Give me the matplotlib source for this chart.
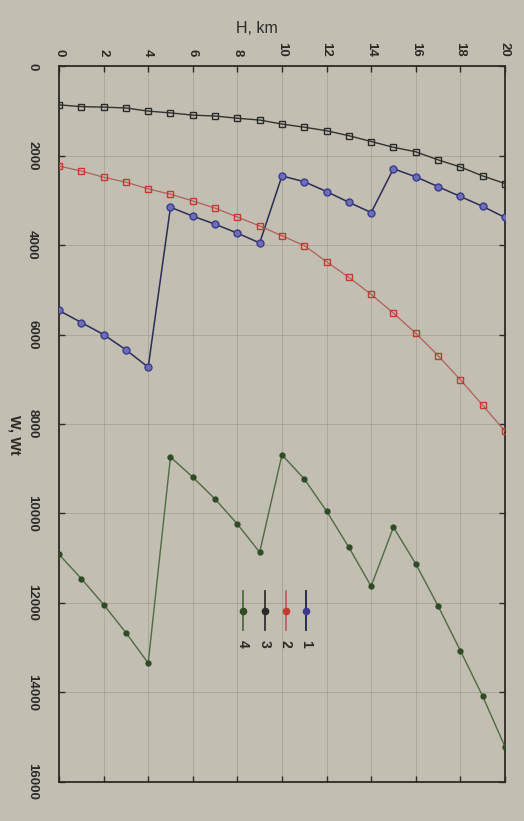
import matplotlib
matplotlib.use("Agg")
import matplotlib.pyplot as plt
from matplotlib.lines import Line2D

# ---- data ----
H = list(range(21))  # km
w1 = [5460, 5730, 6000, 6340, 6730, 3150, 3350, 3530, 3730, 3950,
      2450, 2580, 2800, 3040, 3270, 2290, 2470, 2690, 2910, 3130, 3380]
w2 = [2230, 2340, 2480, 2590, 2740, 2860, 3010, 3170, 3370, 3570,
      3790, 4010, 4370, 4720, 5100, 5520, 5970, 6470, 7010, 7580, 8160]
w3 = [860, 900, 910, 930, 1000, 1040, 1090, 1110, 1160, 1200,
      1290, 1360, 1440, 1550, 1680, 1810, 1910, 2090, 2250, 2450, 2620]
w4 = [10920, 11460, 12040, 12670, 13350, 8740, 9190, 9680, 10240, 10870,
      8690, 9230, 9950, 10760, 11630, 10310, 11130, 12070, 13070, 14090, 15220]
h_ticks = list(range(0, 21, 2))
w_ticks = list(range(0, 16001, 2000))
legend_labels = ["1", "2", "3", "4"]

paper = "#c2beb2"
ink = "#2b2a26"
plt.rcParams['font.family'] = ['Liberation Sans', 'DejaVu Sans']

fig = plt.figure(figsize=(5.24, 8.21), dpi=100, facecolor=paper)
ax = fig.add_axes([0.1126, 0.0481, 0.851, 0.871], facecolor=paper)

styles = [
    dict(color="#2c2c55", marker="o", ms=5.0, mfc="#6e6eb4", mec="#3a3a90", lw=1.1),
    dict(color="#b0605a", marker="s", ms=4.3, mfc="none", mec="#c23a30", lw=0.9),
    dict(color="#333230", marker="s", ms=4.3, mfc="none", mec="#2a2a28", lw=1.0),
    dict(color="#4f6b40", marker="o", ms=3.5, mfc="#2f4a25", mec="#2f4a25", lw=1.0),
]
series = [w1, w2, w3, w4]
for w, st in zip(series, styles):
    ax.plot(H, w, zorder=3, **st)

ax.set_xlim(0, 20)
ax.set_ylim(16000, 0)
ax.set_xticks(h_ticks)
ax.set_yticks(w_ticks)
ax.xaxis.tick_top()
ax.tick_params(axis="both", direction="in", length=4, width=1.0, color=ink,
               top=True, bottom=True, left=True, right=True,
               labeltop=True, labelbottom=False, labelleft=True, labelright=False,
               labelsize=9.5, labelcolor=ink)
ax.tick_params(axis="x", labelrotation=-90, pad=7)
ax.tick_params(axis="y", labelrotation=-90, pad=15)
for lab in ax.get_yticklabels():
    lab.set_verticalalignment("center")
    lab.set_fontweight("bold")
for lab in ax.get_xticklabels():
    lab.set_fontweight("bold")

ax.grid(True, color="#96928a", lw=0.6, alpha=0.6)
for sp in ax.spines.values():
    sp.set_color(ink)
    sp.set_linewidth(1.3)

fig.text(0.49, 0.965, "H, km", fontsize=11.5, color=ink, ha="center", va="center")
fig.text(0.028, 0.47, "W, Wt", fontsize=10.5, color=ink, rotation=-90,
         ha="center", va="center", fontweight="bold")

# legend drawn vertically (rotated page)
leg_x = [0.555, 0.508, 0.461, 0.413]
for lx, st, lab in zip(leg_x, styles, legend_labels):
    ax.add_line(Line2D([lx, lx], [0.266, 0.212], transform=ax.transAxes, zorder=4,
                       color=st["color"], lw=st["lw"] + 0.3))
    ax.add_line(Line2D([lx], [0.239], transform=ax.transAxes, zorder=5,
                       color=st["color"], marker="o", ms=4.5, mfc=st["mec"], mec=st["mec"]))
    ax.text(lx, 0.193, lab, transform=ax.transAxes, rotation=-90, ha="center",
            va="center", fontsize=10, fontweight="bold", color=ink)

fig.savefig("out.png", dpi=100, facecolor=paper)
